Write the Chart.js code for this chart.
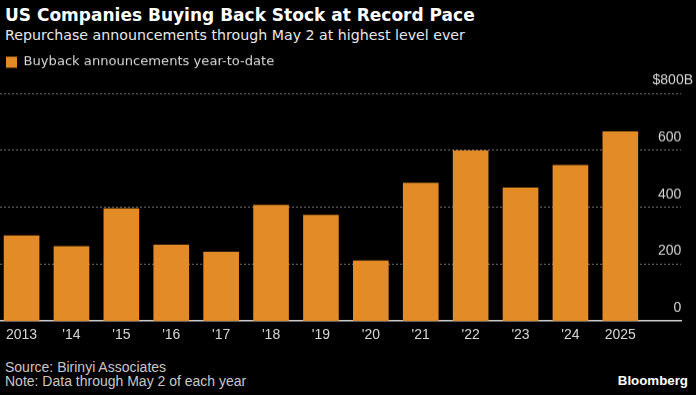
<!DOCTYPE html>
<html lang="en">
<head>
    <meta charset="UTF-8">
    <title>US Companies Buying Back Stock at Record Pace</title>
    <style>
        * {
            margin: 0;
            padding: 0;
            box-sizing: border-box;
        }

        body {
            width: 696px;
            height: 395px;
            background-color: #000;
            position: relative;
            overflow: hidden;
            font-family: 'Liberation Sans', Arial, sans-serif;
        }

        .title {
            position: absolute;
            left: 5px;
            top: 5px;
            color: #fff;
            font-family: 'DejaVu Sans', sans-serif;
            font-weight: bold;
            font-size: 17px;
            line-height: 20px;
            white-space: nowrap;
        }

        .subtitle {
            position: absolute;
            left: 5px;
            top: 27px;
            color: #e8e8e8;
            font-family: 'DejaVu Sans', sans-serif;
            font-size: 14.2px;
            line-height: 17px;
            white-space: nowrap;
        }

        .chart-box {
            position: absolute;
            left: 0;
            top: 0;
            width: 696px;
            height: 358.5px;
        }

        .footer {
            position: absolute;
            left: 5px;
            top: 360px;
            color: #c8c8c8;
            font-size: 14px;
            line-height: 14px;
        }

        .brand {
            position: absolute;
            right: 8px;
            top: 373px;
            color: #fff;
            font-weight: bold;
            font-size: 13.3px;
        }
    </style>
</head>
<body>
    <div class="title">US Companies Buying Back Stock at Record Pace</div>
    <div class="subtitle">Repurchase announcements through May 2 at highest level ever</div>
    <div class="chart-box">
        <canvas id="buybackChart"></canvas>
    </div>
    <div class="footer">
        Source: Birinyi Associates<br>
        Note: Data through May 2 of each year
    </div>
    <div class="brand">Bloomberg</div>

    <script src="https://cdn.jsdelivr.net/npm/chart.js"></script>
    <script>
        // data ($ billions, year-to-date through May 2)
        const years = ['2013', "'14", "'15", "'16", "'17", "'18", "'19", "'20", "'21", "'22", "'23", "'24", '2025'];
        const buybacks = [300, 262, 395, 267, 243, 407, 372, 212, 485, 598, 468, 547, 665];
        const yTicks = [0, 200, 400, 600, 800];
        const yTickLabels = ['0   ', '200   ', '400   ', '600   ', '$800B'];

        const font = "'Liberation Sans', Arial, sans-serif";
        const orange = '#e38b27';

        // extra room between the legend and the plot area
        const legendGap = {
            id: 'legendGap',
            beforeInit(chart) {
                const fit = chart.legend.fit;
                chart.legend.fit = function () {
                    fit.call(this);
                    this.height += 14.5;
                };
            }
        };

        var ctx = document.getElementById('buybackChart').getContext('2d');
        var chart = new Chart(ctx, {
            type: 'bar',
            data: {
                datasets: [{
                    label: 'Buyback announcements year-to-date',
                    data: buybacks.map((v, i) => ({ x: i, y: v })),
                    backgroundColor: orange,
                    borderWidth: 0,
                    barThickness: 35
                }]
            },
            plugins: [legendGap],
            options: {
                responsive: true,
                maintainAspectRatio: false,
                animation: false,
                layout: {
                    padding: { left: 0, right: -9, top: 49.5, bottom: 9.5 }
                },
                plugins: {
                    legend: {
                        align: 'start',
                        labels: {
                            boxWidth: 11,
                            boxHeight: 11,
                            padding: 6,
                            color: '#d8d8d8',
                            font: { family: "'DejaVu Sans', sans-serif", size: 13.1 }
                        }
                    },
                    tooltip: { enabled: false }
                },
                scales: {
                    x: {
                        type: 'linear',
                        offset: false,
                        min: -0.431,
                        max: 13.216,
                        grid: { display: false, drawTicks: false },
                        border: { display: true, color: '#d0d0d0', width: 1.5 },
                        afterBuildTicks: s => { s.ticks = years.map((_, i) => ({ value: i })); },
                        ticks: {
                            autoSkip: false,
                            maxRotation: 0,
                            padding: 6,
                            color: '#d8d8d8',
                            font: { family: font, size: 14 },
                            callback: (v, i) => years[i]
                        }
                    },
                    y: {
                        position: 'right',
                        min: 0,
                        max: 800,
                        afterBuildTicks: s => { s.ticks = yTicks.map(v => ({ value: v })); },
                        grid: {
                            drawTicks: false,
                            color: c => c.tick && c.tick.value === 0 ? 'rgba(0,0,0,0)' : '#777',
                            lineWidth: 1
                        },
                        border: { display: false, dash: [2, 2] },
                        ticks: {
                            mirror: true,
                            padding: 12,
                            labelOffset: -13,
                            color: '#d8d8d8',
                            font: { family: font, size: 14 },
                            callback: (v, i) => yTickLabels[i]
                        }
                    }
                }
            }
        });
    </script>
</body>
</html>
